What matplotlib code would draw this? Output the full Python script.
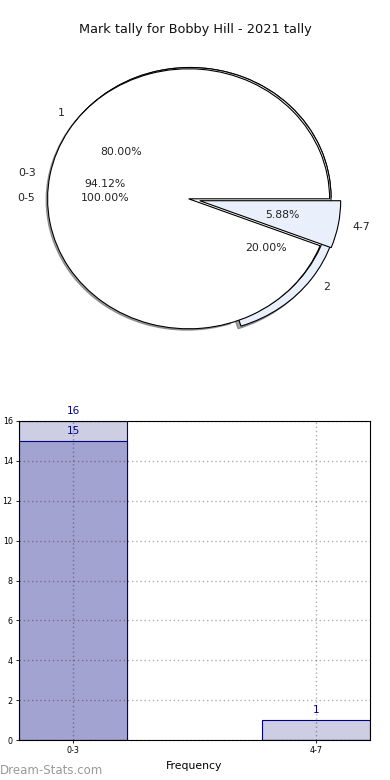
import matplotlib
matplotlib.use("Agg")
import matplotlib.pyplot as plt

# ---- data ----
title = "Mark tally for Bobby Hill - 2021 tally"
all_labels = ["0-5"]
all_counts = [17]
range_labels = ["0-3", "4-7"]
range_counts = [16, 1]
mark_labels = ["1", "2"]
mark_shares = [80, 20]

bar_categories = ["0-3", "4-7"]
bar_totals = [16, 1]
bar_subset = [15, 0]
y_ticks = [0, 2, 4, 6, 8, 10, 12, 14, 16]

W, H = 390, 780
fig = plt.figure(figsize=(W / 100, H / 100), dpi=100)
fig.patch.set_facecolor("white")

# ---- pie axes ----
cx, cy, rx, ry = 190, 197.5, 141, 130
lim = 1.3
axw, axh = 2 * lim * rx, 2 * lim * ry
ax1 = fig.add_axes([(cx - lim * rx) / W, 1 - (cy + lim * ry) / H, axw / W, axh / H])

white = "#ffffff"
blue = "#e9effb"
wp = dict(edgecolor="black", linewidth=0.8)
tp = dict(fontsize=7.8, color="#222222")

# bottom layer: marks, with shadow, "2" exploded
ax1.pie(mark_shares, labels=mark_labels, explode=[0, 0.065], colors=[white, blue],
        autopct="%1.2f%%", pctdistance=0.6, labeldistance=1.1, startangle=0,
        shadow={"ox": -0.015, "oy": -0.015, "shade": 0.7}, wedgeprops=wp, textprops=tp)
# middle layer: whole range
ax1.pie(all_counts, labels=all_labels, colors=[white], autopct="%1.2f%%",
        pctdistance=0.6, labeldistance=1.1, startangle=0, wedgeprops=wp, textprops=tp)
# top layer: ranges, "4-7" exploded
ax1.pie(range_counts, labels=range_labels, explode=[0, 0.08], colors=[white, blue],
        autopct="%1.2f%%", pctdistance=0.6, labeldistance=1.1, startangle=0,
        center=(-0.01, -0.01), wedgeprops=wp, textprops=tp)
ax1.set_aspect("auto")
ax1.set_xlim(-lim, lim)
ax1.set_ylim(-lim, lim)
ax1.axis("off")

fig.text(195 / W, 1 - 30 / H, title, ha="center", va="center", fontsize=9.3, color="#111111")

# ---- bar axes ----
l, r, t, b = 19, 370, 421, 740
ax2 = fig.add_axes([l / W, 1 - b / H, (r - l) / W, (b - t) / H])
x = list(range(len(bar_categories)))
bw = 0.444
navy = "#000080"
ax2.bar(x, bar_totals, width=bw, color="#cdcde4", edgecolor=navy, linewidth=0.8)
ax2.bar(x, bar_subset, width=bw, color="#a3a3d1", edgecolor=navy, linewidth=0.8)
for xi, v in zip(x, bar_totals):
    ax2.text(xi, v + 0.25, str(v), ha="center", va="bottom", fontsize=7.5, color=navy)
for xi, v in zip(x, bar_subset):
    if v > 0:
        ax2.text(xi, v + 0.25, str(v), ha="center", va="bottom", fontsize=7.5, color=navy)
ax2.set_xlim(-bw / 2, len(x) - 1 + bw / 2)
ax2.set_ylim(0, 16)
ax2.set_xticks(x)
ax2.set_xticklabels(bar_categories)
ax2.set_yticks(y_ticks)
ax2.tick_params(labelsize=5.8, length=2.5, width=0.6, pad=2)
ax2.grid(True, linestyle=(0, (1, 2)), color="black", alpha=0.32, linewidth=1.0)
ax2.set_xlabel("Frequency", fontsize=7.8, labelpad=4)
ax2.set_ylabel("Distribution", fontsize=7.8, labelpad=3)
for s in ax2.spines.values():
    s.set_linewidth(0.8)

fig.text(0 / W, 1 - 771 / H, "Dream-Stats.com", ha="left", va="center", fontsize=8.5, color="#999999")

fig.savefig("out.png", dpi=100)
